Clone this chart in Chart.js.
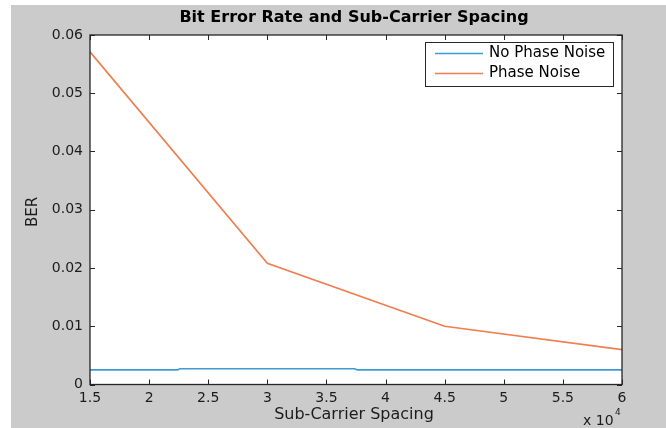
<!DOCTYPE html>
<html>
<head>
<meta charset="utf-8">
<script src="https://cdn.jsdelivr.net/npm/chart.js@4/dist/chart.umd.min.js"></script>
<style>
html,body{margin:0;padding:0;background:#fff;}
#wrap{width:666px;height:428px;position:relative;}
</style>
</head>
<body>
<div id="wrap"><canvas id="c" width="666" height="428"></canvas></div>
<script>
const chartTitle = 'Bit Error Rate and Sub-Carrier Spacing';
const xTitle = 'Sub-Carrier Spacing';
const yTitle = 'BER';
const seriesNames = ['No Phase Noise', 'Phase Noise'];
const noPhaseX = [15000, 22400, 22600, 37400, 37600, 60000];
const noPhaseY = [0.0025, 0.0025, 0.0027, 0.0027, 0.0025, 0.0025];
const phaseX = [15000, 30000, 45000, 60000];
const phaseY = [0.0571, 0.0208, 0.0100, 0.0060];
const xTicks = [15000, 20000, 25000, 30000, 35000, 40000, 45000, 50000, 55000, 60000];
const yTicks = [0, 0.01, 0.02, 0.03, 0.04, 0.05, 0.06];

const FONT = '"DejaVu Sans", "Liberation Sans", Arial, sans-serif';
const TXT = '#1c1c1c';
const pts = (xs, ys) => xs.map((x, i) => ({x: x, y: ys[i]}));

const decor = {
  id: 'decor',
  beforeDraw(chart) {
    const ctx = chart.ctx, a = chart.chartArea;
    ctx.save();
    ctx.fillStyle = '#ffffff';
    ctx.fillRect(0, 0, chart.width, chart.height);
    ctx.fillStyle = '#cbcbcb';
    ctx.fillRect(11, 5, chart.width - 11, chart.height - 5);
    ctx.fillStyle = '#ffffff';
    ctx.fillRect(a.left, a.top, a.right - a.left, a.bottom - a.top);
    ctx.restore();
  },
  afterDraw(chart) {
    const ctx = chart.ctx, a = chart.chartArea;
    const xs = chart.scales.x, ys = chart.scales.y;
    ctx.save();
    ctx.strokeStyle = '#262626';
    ctx.lineWidth = 1;
    ctx.beginPath();
    xs.ticks.forEach(t => {
      const px = Math.round(xs.getPixelForValue(t.value)) + 0.5;
      ctx.moveTo(px, a.bottom); ctx.lineTo(px, a.bottom - 5);
      ctx.moveTo(px, a.top); ctx.lineTo(px, a.top + 5);
    });
    ys.ticks.forEach(t => {
      const py = Math.round(ys.getPixelForValue(t.value)) + 0.5;
      ctx.moveTo(a.left, py); ctx.lineTo(a.left + 5, py);
      ctx.moveTo(a.right, py); ctx.lineTo(a.right - 5, py);
    });
    ctx.stroke();
    ctx.lineWidth = 1.3;
    ctx.strokeRect(a.left, a.top, a.right - a.left, a.bottom - a.top);

    // title
    ctx.fillStyle = '#000000';
    ctx.font = 'bold 16px ' + FONT;
    ctx.textAlign = 'center';
    ctx.textBaseline = 'middle';
    ctx.fillText(chartTitle, 354, 18);

    // axis titles
    ctx.fillStyle = TXT;
    ctx.font = '16px ' + FONT;
    ctx.fillText(xTitle, 354, 415);
    ctx.save();
    ctx.translate(33, 212);
    ctx.rotate(-Math.PI / 2);
    ctx.font = '15px ' + FONT;
    ctx.fillText(yTitle, 0, 0);
    ctx.restore();

    // exponent
    ctx.font = '14px ' + FONT;
    ctx.textAlign = 'left';
    ctx.fillText('x 10', 583, 421);
    ctx.font = '9px ' + FONT;
    ctx.fillText('4', 615, 413);

    // legend
    const lx = 425, ly = 42, lw = 188, lh = 44;
    ctx.fillStyle = '#ffffff';
    ctx.fillRect(lx, ly, lw, lh);
    ctx.strokeStyle = '#262626';
    ctx.lineWidth = 1;
    ctx.strokeRect(lx + 0.5, ly + 0.5, lw, lh);
    chart.data.datasets.forEach((ds, i) => {
      const yy = ly + 11.5 + i * 20;
      ctx.strokeStyle = ds.borderColor;
      ctx.lineWidth = 1.5;
      ctx.beginPath();
      ctx.moveTo(lx + 10, yy); ctx.lineTo(lx + 58, yy);
      ctx.stroke();
      ctx.fillStyle = '#000000';
      ctx.font = '15px ' + FONT;
      ctx.textAlign = 'left';
      ctx.textBaseline = 'middle';
      ctx.fillText(ds.label, lx + 64, yy);
    });
    ctx.restore();
  }
};

new Chart(document.getElementById('c'), {
  type: 'scatter',
  data: {
    datasets: [
      {label: seriesNames[0], data: pts(noPhaseX, noPhaseY), showLine: true, borderColor: '#3f9bd6', backgroundColor: '#3f9bd6', borderWidth: 1.7, pointRadius: 0, tension: 0},
      {label: seriesNames[1], data: pts(phaseX, phaseY), showLine: true, borderColor: '#ef7e50', backgroundColor: '#ef7e50', borderWidth: 1.7, pointRadius: 0, tension: 0}
    ]
  },
  options: {
    responsive: false,
    animation: false,
    devicePixelRatio: 1,
    layout: {padding: {left: 0, right: 44, top: 35, bottom: 0}},
    plugins: {legend: {display: false}, title: {display: false}, tooltip: {enabled: false}},
    scales: {
      x: {
        type: 'linear', min: 15000, max: 60000,
        afterBuildTicks: s => { s.ticks = xTicks.map(v => ({value: v})); },
        afterFit: s => { s.height = 43.5; },
        grid: {display: false, drawTicks: false},
        border: {display: false},
        ticks: {padding: 5, color: TXT, font: {family: FONT, size: 14}, maxRotation: 0, autoSkip: false,
          callback: v => String(v / 10000)}
      },
      y: {
        type: 'linear', min: 0, max: 0.06,
        afterBuildTicks: s => { s.ticks = yTicks.map(v => ({value: v})); },
        afterFit: s => { s.width = 90; },
        grid: {display: false, drawTicks: false},
        border: {display: false},
        ticks: {padding: 7, color: TXT, font: {family: FONT, size: 14}, autoSkip: false,
          callback: v => String(Number(v.toFixed(2)))}
      }
    }
  },
  plugins: [decor]
});
</script>
</body>
</html>
